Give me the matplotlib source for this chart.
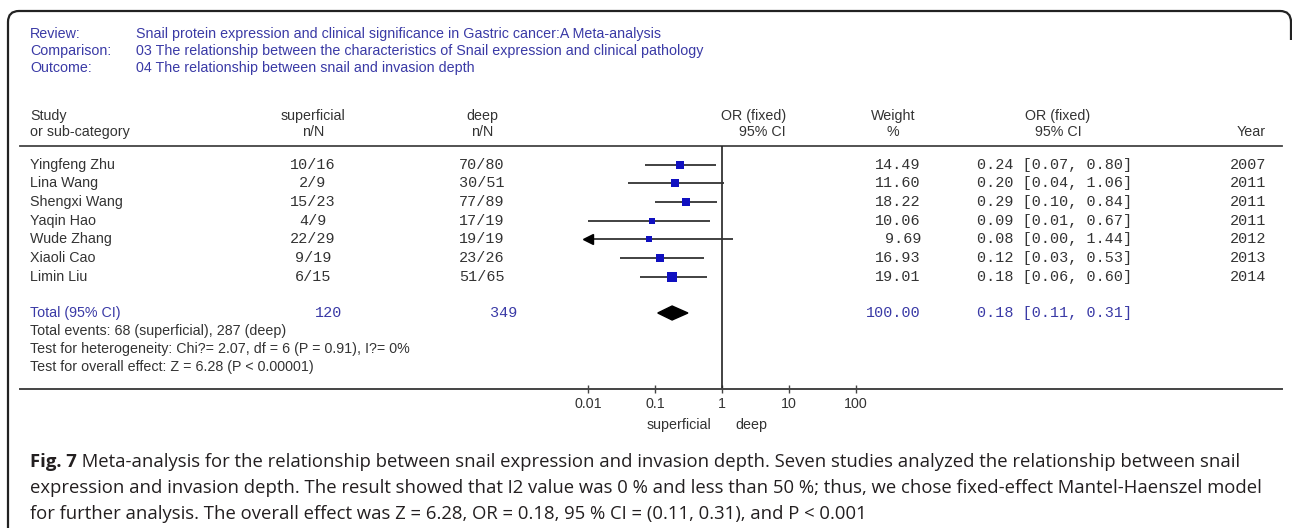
import matplotlib
matplotlib.use("Agg")
import matplotlib.pyplot as plt
from matplotlib.patches import Polygon, PathPatch
from matplotlib.path import Path
import numpy as np

# ---------------- data ----------------
review_labels = ["Review:", "Comparison:", "Outcome:"]
review_values = [
    "Snail protein expression and clinical significance in Gastric cancer:A Meta-analysis",
    "03 The relationship between the characteristics of Snail expression and clinical pathology",
    "04 The relationship between snail and invasion depth",
]
studies = ["Yingfeng Zhu", "Lina Wang", "Shengxi Wang", "Yaqin Hao",
           "Wude Zhang", "Xiaoli Cao", "Limin Liu"]
sup_events = [10, 2, 15, 4, 22, 9, 6]
sup_total = [16, 9, 23, 9, 29, 19, 15]
deep_events = [70, 30, 77, 17, 19, 23, 51]
deep_total = [80, 51, 89, 19, 19, 26, 65]
weights = [14.49, 11.60, 18.22, 10.06, 9.69, 16.93, 19.01]
or_vals = [0.24, 0.20, 0.29, 0.09, 0.08, 0.12, 0.18]
ci_low = [0.07, 0.04, 0.10, 0.01, 0.00, 0.03, 0.06]
ci_high = [0.80, 1.06, 0.84, 0.67, 1.44, 0.53, 0.60]
years = [2007, 2011, 2011, 2011, 2012, 2013, 2014]
total_sup = 120
total_deep = 349
total_weight = 100.00
total_or = 0.18
total_low = 0.11
total_high = 0.31
summary_lines = [
    "Total events: 68 (superficial), 287 (deep)",
    "Test for heterogeneity: Chi?= 2.07, df = 6 (P = 0.91), I?= 0%",
    "Test for overall effect: Z = 6.28 (P < 0.00001)",
]
axis_ticks = [0.01, 0.1, 1, 10, 100]
axis_ticklabels = ["0.01", "0.1", "1", "10", "100"]
caption_bold = "Fig. 7"
caption_lines = [
    " Meta-analysis for the relationship between snail expression and invasion depth. Seven studies analyzed the relationship between snail",
    "expression and invasion depth. The result showed that I2 value was 0 % and less than 50 %; thus, we chose fixed-effect Mantel-Haenszel model",
    "for further analysis. The overall effect was Z = 6.28, OR = 0.18, 95 % CI = (0.11, 0.31), and P < 0.001",
]

# ---------------- layout ----------------
W, H, DPI = 1292, 528, 100
fig = plt.figure(figsize=(W / DPI, H / DPI), dpi=DPI)
fig.patch.set_facecolor("white")

tx = fig.add_axes([0, 0, 1, 1])
tx.set_xlim(0, W)
tx.set_ylim(H, 0)
tx.axis("off")

BLUE = "#3a3aa6"
DARK = "#333333"
SANS = ["Liberation Sans", "DejaVu Sans"]
MONO = ["Liberation Mono", "DejaVu Sans Mono"]
sfs = 10.3
mfs = 10.9

# border with rounded top corners
verts = [(8, H), (8, 22), (8, 11), (19, 11), (1280, 11), (1291, 11), (1291, 22), (1291, 40)]
codes = [Path.MOVETO, Path.LINETO, Path.CURVE3, Path.CURVE3, Path.LINETO,
         Path.CURVE3, Path.CURVE3, Path.LINETO]
tx.add_patch(PathPatch(Path(verts, codes), facecolor="none", edgecolor="#222222", lw=1.6))

# header info
for i, (lab, val) in enumerate(zip(review_labels, review_values)):
    y = 34 + i * 17
    tx.text(30, y, lab, color=BLUE, fontsize=sfs, family=SANS, va="center")
    tx.text(136, y, val, color=BLUE, fontsize=sfs, family=SANS, va="center")

# column headers
hy1, hy2 = 116, 132
tx.text(30, hy1, "Study", color=DARK, fontsize=sfs, family=SANS, va="center")
tx.text(30, hy2, "or sub-category", color=DARK, fontsize=sfs, family=SANS, va="center")
X_SUP, X_DEEP = 313, 482
tx.text(X_SUP, hy1, "superficial", color=DARK, fontsize=sfs, family=SANS, va="center", ha="center")
tx.text(X_SUP, hy2, "n/N", color=DARK, fontsize=sfs, family=SANS, va="center", ha="center")
tx.text(X_DEEP, hy1, "deep", color=DARK, fontsize=sfs, family=SANS, va="center", ha="center")
tx.text(X_DEEP, hy2, "n/N", color=DARK, fontsize=sfs, family=SANS, va="center", ha="center")
tx.text(786, hy1, "OR (fixed)", color=DARK, fontsize=sfs, family=SANS, va="center", ha="right")
tx.text(786, hy2, "95% CI", color=DARK, fontsize=sfs, family=SANS, va="center", ha="right")
X_W = 921
tx.text(893, hy1, "Weight", color=DARK, fontsize=sfs, family=SANS, va="center", ha="center")
tx.text(893, hy2, "%", color=DARK, fontsize=sfs, family=SANS, va="center", ha="center")
X_CI = 977
tx.text(1058, hy1, "OR (fixed)", color=DARK, fontsize=sfs, family=SANS, va="center", ha="center")
tx.text(1058, hy2, "95% CI", color=DARK, fontsize=sfs, family=SANS, va="center", ha="center")
X_Y = 1266
tx.text(X_Y, hy2, "Year", color=DARK, fontsize=sfs, family=SANS, va="center", ha="right")

LINE_TOP = 146
AXIS_Y = 389
tx.plot([20, 1282], [LINE_TOP, LINE_TOP], color="#444444", lw=1.3)

row0, step = 164.7, 18.67
row_y = [row0 + i * step for i in range(len(studies))]
for i, y in enumerate(row_y):
    tx.text(30, y, studies[i], color=DARK, fontsize=sfs, family=SANS, va="center")
    tx.text(X_SUP, y, f"{sup_events[i]}/{sup_total[i]}", color=DARK, fontsize=mfs, family=MONO, va="center", ha="center")
    tx.text(X_DEEP, y, f"{deep_events[i]}/{deep_total[i]}", color=DARK, fontsize=mfs, family=MONO, va="center", ha="center")
    tx.text(X_W, y, f"{weights[i]:.2f}", color=DARK, fontsize=mfs, family=MONO, va="center", ha="right")
    tx.text(X_CI, y, f"{or_vals[i]:.2f} [{ci_low[i]:.2f}, {ci_high[i]:.2f}]", color=DARK, fontsize=mfs, family=MONO, va="center", ha="left")
    tx.text(X_Y, y, str(years[i]), color=DARK, fontsize=mfs, family=MONO, va="center", ha="right")

TOT_Y = 313
tx.text(30, TOT_Y, "Total (95% CI)", color=BLUE, fontsize=sfs, family=SANS, va="center")
tx.text(X_SUP + 16, TOT_Y, str(total_sup), color=BLUE, fontsize=mfs, family=MONO, va="center", ha="center")
tx.text(X_DEEP + 22, TOT_Y, str(total_deep), color=BLUE, fontsize=mfs, family=MONO, va="center", ha="center")
tx.text(X_W, TOT_Y, f"{total_weight:.2f}", color=BLUE, fontsize=mfs, family=MONO, va="center", ha="right")
tx.text(X_CI, TOT_Y, f"{total_or:.2f} [{total_low:.2f}, {total_high:.2f}]", color=BLUE, fontsize=mfs, family=MONO, va="center", ha="left")
for j, s in enumerate(summary_lines):
    tx.text(30, 331 + j * 18, s, color=DARK, fontsize=sfs, family=SANS, va="center")

# ---------------- forest axes ----------------
X1, DEC = 722, 67.0
XL, XR = 20, 1282
fx = fig.add_axes([XL / W, (H - AXIS_Y) / H, (XR - XL) / W, (AXIS_Y - LINE_TOP) / H])
fx.patch.set_alpha(0)
fx.set_xscale("log")
fx.set_xlim(10 ** ((XL - X1) / DEC), 10 ** ((XR - X1) / DEC))
fx.set_ylim(AXIS_Y, LINE_TOP)
for sp in ["top", "left", "right"]:
    fx.spines[sp].set_visible(False)
fx.spines["bottom"].set_color("#444444")
fx.spines["bottom"].set_linewidth(1.4)
fx.set_yticks([])
fx.set_xticks(axis_ticks)
fx.set_xticklabels(axis_ticklabels, family=SANS, fontsize=sfs, color=DARK)
fx.minorticks_off()
fx.tick_params(axis="x", which="major", direction="inout", length=6, width=1, color="#444444", pad=3)

fx.vlines(1, LINE_TOP, AXIS_Y, color="#222222", lw=1.2)

lo_lim = axis_ticks[0]
for i, y in enumerate(row_y):
    lo = max(ci_low[i], lo_lim)
    fx.hlines(y, lo, ci_high[i], color="#333333", lw=1.3)
    if ci_low[i] < lo_lim:
        fx.plot([lo_lim], [y], marker="<", ms=7, color="black", mec="black")
    side_px = 2.1 * np.sqrt(weights[i])
    fx.scatter([or_vals[i]], [y], marker="s", s=(side_px * 0.72) ** 2, color="#1010c0", zorder=3, linewidths=0)

dh = 7
fx.add_patch(Polygon([(total_low, TOT_Y), (total_or, TOT_Y - dh), (total_high, TOT_Y), (total_or, TOT_Y + dh)],
                     closed=True, facecolor="black", edgecolor="black"))

tx.text(711, 425, "superficial", color=DARK, fontsize=sfs, family=SANS, va="center", ha="right")
tx.text(735, 425, "deep", color=DARK, fontsize=sfs, family=SANS, va="center", ha="left")

# ---------------- caption ----------------
CAP = ["Open Sans", "DejaVu Sans"]
cfs = 13.3
cap_y = [462, 488, 514]
fig.canvas.draw()
r = fig.canvas.get_renderer()
tb = tx.text(30, cap_y[0], caption_bold, fontsize=cfs, family=CAP, weight="bold", color="#231f20", va="center")
bb = tb.get_window_extent(renderer=r)
tx.text(30 + bb.width, cap_y[0], caption_lines[0], fontsize=cfs, family=CAP, color="#231f20", va="center")
for k in (1, 2):
    tx.text(30, cap_y[k], caption_lines[k], fontsize=cfs, family=CAP, color="#231f20", va="center")

fig.savefig("out.png", dpi=DPI)
